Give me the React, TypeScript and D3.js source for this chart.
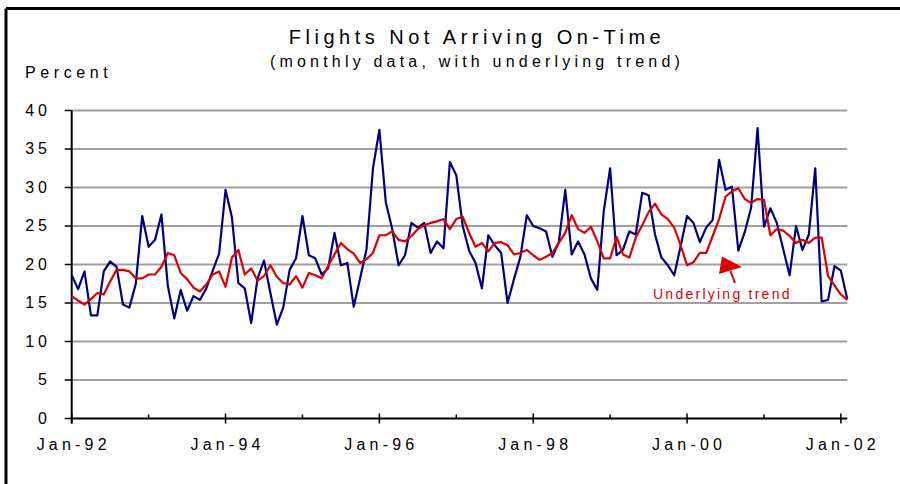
import React from "react";
import * as d3 from "d3";

// Monthly data Jan-92 .. Feb-02 (122 months)
const monthlyDelayed: number[] = [
  18.6, 16.8, 19.1, 13.4, 13.4, 19.1, 20.4, 19.7, 14.8, 14.4, 17.5, 26.3,
  22.3, 23.2, 26.5, 17.2, 13.0, 16.7, 14.0, 15.9, 15.4, 16.9, 19.2, 21.4,
  29.7, 26.1, 17.6, 16.9, 12.4, 18.2, 20.5, 16.3, 12.2, 14.4, 19.3, 20.8,
  26.3, 21.2, 20.8, 18.7, 19.5, 24.1, 19.9, 20.2, 14.5, 18.2, 22.0, 32.5,
  37.5, 28.1, 24.6, 19.9, 21.2, 25.4, 24.8, 25.4, 21.5, 23.0, 22.1, 33.3,
  31.6, 25.0, 21.8, 20.2, 16.9, 23.8, 22.5, 21.5, 15.0, 18.1, 21.0, 26.4,
  25.0, 24.7, 24.3, 21.0, 22.9, 29.7, 21.3, 23.0, 21.3, 18.2, 16.7, 26.9,
  32.5, 21.2, 21.9, 24.3, 23.9, 29.3, 29.0, 23.9, 20.9, 19.9, 18.6, 22.4,
  26.3, 25.4, 22.9, 24.8, 25.8, 33.6, 29.7, 30.1, 21.8, 24.2, 27.4, 37.7,
  24.9, 27.3, 25.4, 22.0, 18.6, 25.0, 21.9, 23.9, 32.5, 15.2, 15.4, 19.8,
  19.2, 15.5,
];

const underlyingTrend: number[] = [
  15.9, 15.3, 14.8, 15.5, 16.3, 16.1, 17.8, 19.3, 19.3, 19.1, 18.2, 18.2,
  18.7, 18.7, 19.7, 21.5, 21.2, 18.9, 18.1, 17.0, 16.5, 17.4, 18.7, 19.1,
  17.1, 20.9, 21.9, 18.7, 19.5, 17.9, 18.5, 19.9, 18.4, 17.6, 17.4, 18.5,
  17.0, 18.9, 18.6, 18.2, 19.8, 21.3, 22.8, 22.0, 21.4, 20.2, 20.7, 21.5,
  23.8, 23.8, 24.3, 23.2, 23.0, 23.7, 24.6, 25.1, 25.4, 25.6, 25.9, 24.6,
  25.9, 26.2, 24.1, 22.3, 22.8, 21.7, 22.8, 22.9, 22.5, 21.3, 21.5, 21.9,
  21.2, 20.6, 21.0, 21.5, 22.8, 24.1, 26.4, 24.6, 24.1, 24.9, 23.0, 20.8,
  20.8, 23.6, 21.3, 20.9, 23.5, 25.1, 26.8, 27.9, 26.5, 25.9, 24.8, 22.5,
  19.9, 20.3, 21.5, 21.5, 23.7, 25.9, 28.8, 29.5, 29.9, 28.5, 28.0, 28.5,
  28.4, 23.8, 24.6, 24.4, 23.7, 22.8, 23.2, 22.8, 23.5, 23.5, 18.5, 17.3,
  16.1, 15.4,
];

const yTicks: number[] = [0, 5, 10, 15, 20, 25, 30, 35, 40];
const xMajorLabels: string[] = ["Jan-92", "Jan-94", "Jan-96", "Jan-98", "Jan-00", "Jan-02"];
const xMajorIdx: number[] = [0, 24, 48, 72, 96, 120];
const xMinorIdx: number[] = [12, 36, 60, 84, 108];

const FONT = "'Liberation Sans', Arial, Helvetica, sans-serif";

export default function App() {
  const x = d3.scaleLinear().domain([0, monthlyDelayed.length - 1]).range([71.7, 847.3]);
  const y = d3.scaleLinear().domain([0, 40]).range([418.5, 110.5]);
  const line = d3
    .line<number>()
    .x((_, i) => x(i))
    .y((d) => y(d));

  return (
    <svg
      width={900}
      height={484}
      style={{ position: "absolute", left: 0, top: 0, background: "#fff" }}
      fontFamily={FONT}
    >
      <rect x={0} y={0} width={900} height={484} fill="#fff" />
      {/* frame */}
      <line x1={6} y1={8.5} x2={900} y2={8.5} stroke="#000" strokeWidth={3} />
      <line x1={6} y1={8.5} x2={6} y2={484} stroke="#000" strokeWidth={3} />

      {/* titles */}
      <text x={477} y={44} textAnchor="middle" fontSize={20} letterSpacing={4.5} fill="#000">
        Flights Not Arriving On-Time
      </text>
      <text x={477} y={67} textAnchor="middle" fontSize={16} letterSpacing={4.2} fill="#000">
        (monthly data, with underlying trend)
      </text>
      <text x={25} y={78} fontSize={16} letterSpacing={4.6} fill="#000">
        Percent
      </text>

      {/* gridlines */}
      {yTicks
        .filter((t) => t > 0)
        .map((t) => (
          <line key={"g" + t} x1={x(0)} x2={x(monthlyDelayed.length - 1)} y1={y(t)} y2={y(t)} stroke="#a0a0a0" strokeWidth={2} />
        ))}

      {/* y axis */}
      <line x1={x(0)} x2={x(0)} y1={y(40)} y2={y(0) + 5} stroke="#000" strokeWidth={2} />
      {yTicks.map((t) => (
        <g key={"yt" + t}>
          <line x1={x(0) - 7} x2={x(0)} y1={y(t)} y2={y(t)} stroke="#000" strokeWidth={1.5} />
          <text x={51} y={y(t) + 5} textAnchor="end" fontSize={16} letterSpacing={4} fill="#000">
            {t}
          </text>
        </g>
      ))}

      {/* x axis */}
      <line x1={x(0)} x2={x(monthlyDelayed.length - 1)} y1={y(0)} y2={y(0)} stroke="#000" strokeWidth={2} />
      {xMajorIdx.map((i, k) => (
        <g key={"xm" + i}>
          <line x1={x(i)} x2={x(i)} y1={y(0) - 5} y2={y(0) + 5} stroke="#000" strokeWidth={1.5} />
          <text x={x(i) + 2} y={450} textAnchor="middle" fontSize={16} letterSpacing={4.2} fill="#000">
            {xMajorLabels[k]}
          </text>
        </g>
      ))}
      {xMinorIdx.map((i) => (
        <line key={"xn" + i} x1={x(i)} x2={x(i)} y1={y(0) - 4} y2={y(0)} stroke="#000" strokeWidth={1.5} />
      ))}

      {/* series */}
      <path d={line(monthlyDelayed) || ""} fill="none" stroke="#000080" strokeWidth={2.2} strokeLinejoin="round" />
      <path d={line(underlyingTrend) || ""} fill="none" stroke="#dd0000" strokeWidth={2.2} strokeLinejoin="round" />

      {/* annotation */}
      <polygon points="719,274 722,256.5 742,267" fill="#dd0000" />
      <line x1={730.5} y1={271} x2={735} y2={283} stroke="#dd0000" strokeWidth={2} />
      <text x={653} y={298.5} fontSize={14} letterSpacing={2.25} fill="#dd0000">
        Underlying trend
      </text>
    </svg>
  );
}
